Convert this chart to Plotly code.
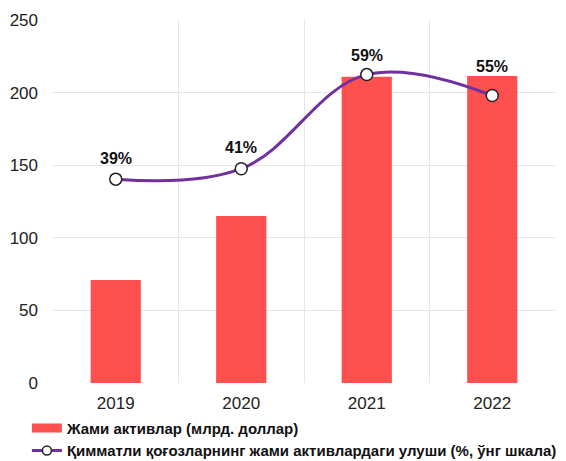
import plotly.graph_objects as go

YEARS = ["2019", "2020", "2021", "2022"]
TOTAL_ASSETS = [71, 115, 211, 211.5]
SECURITIES_SHARE = [39, 41, 59, 55]
SHARE_LABELS = ["39%", "41%", "59%", "55%"]

BAR_NAME = "Жами активлар (млрд. доллар)"
LINE_NAME = "Қимматли қоғозларнинг жами активлардаги улуши (%, ўнг шкала)"

BAR_COLOR = "#FF5050"
LINE_COLOR = "#7030A0"
GRID_COLOR = "#E6E6E6"
FONT = "Liberation Sans, Arial, sans-serif"

fig = go.Figure()
fig.add_trace(go.Bar(
    x=YEARS, y=TOTAL_ASSETS, name=BAR_NAME, showlegend=False,
    marker=dict(color=BAR_COLOR, line=dict(width=0)),
    width=0.4,
))
fig.add_trace(go.Scatter(
    x=YEARS, y=SECURITIES_SHARE, name=LINE_NAME, yaxis="y2", showlegend=False,
    mode="lines+markers",
    line=dict(color=LINE_COLOR, width=3, shape="spline", smoothing=1.1),
    marker=dict(size=12, color="white", line=dict(width=1.5, color="#222222")),
))

# legend-only proxies so the swatches look like the reference
fig.add_trace(go.Scatter(
    x=[None], y=[None], name=BAR_NAME, mode="lines",
    line=dict(color=BAR_COLOR, width=9),
))
fig.add_trace(go.Scatter(
    x=[None], y=[None], name=LINE_NAME, mode="lines+markers",
    line=dict(color=LINE_COLOR, width=3),
    marker=dict(size=9, color="white", line=dict(width=1.5, color="#222222")),
))

# percent labels above the line markers
label_shift = [21, 21, 19, 29]
for i, (v, lbl, dy) in enumerate(zip(SECURITIES_SHARE, SHARE_LABELS, label_shift)):
    fig.add_annotation(
        x=i, y=v, xref="x", yref="y2", text=f"<b>{lbl}</b>", showarrow=False,
        yshift=dy, font=dict(size=16, color="#111111", family=FONT),
    )

# page body adds an 8px margin, so the figure is sized to fill what is left
fig.update_layout(
    width=558, height=453,
    plot_bgcolor="white", paper_bgcolor="white",
    font=dict(family=FONT, size=17, color="#222222"),
    margin=dict(l=45, r=11, t=12, b=78, autoexpand=False),
    showlegend=True,
    legend=dict(
        orientation="v", x=-0.052, xanchor="left", y=-0.079, yanchor="top",
        font=dict(size=15, color="#111111", family=FONT, weight="bold"),
        tracegroupgap=0, itemwidth=30, bgcolor="rgba(0,0,0,0)",
    ),
    xaxis=dict(
        type="category", range=[-0.5, 3.5], tickson="boundaries",
        showgrid=True, gridcolor=GRID_COLOR, gridwidth=1,
        ticks="", showline=False, zeroline=False, tickangle=0,
        ticklabelstandoff=8,
        tickfont=dict(size=17, color="#222222"),
    ),
    yaxis=dict(
        range=[0, 250], dtick=50, showgrid=True, gridcolor=GRID_COLOR, gridwidth=1,
        zeroline=False, showline=False, ticks="", ticklabelstandoff=14,
        tickfont=dict(size=17, color="#222222"),
    ),
    yaxis2=dict(
        range=[0, 250 / 3.6], overlaying="y", side="right",
        showgrid=False, showticklabels=False, zeroline=False, ticks="",
    ),
)

fig.write_html("out.html")
